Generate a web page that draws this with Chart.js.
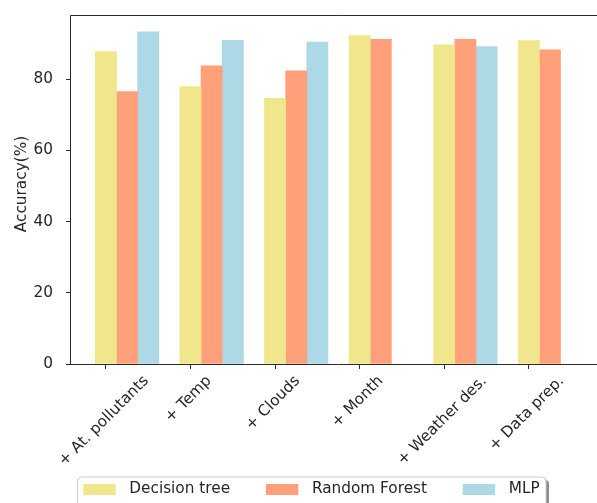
<!DOCTYPE html>
<html>
<head>
<meta charset="utf-8">
<script src="https://cdn.jsdelivr.net/npm/chart.js@4"></script>
<style>
  html, body { margin: 0; padding: 0; background: #fff; }
  #wrap { width: 597px; height: 503px; overflow: hidden; position: relative; }
  canvas { display: block; }
</style>
</head>
<body>
<div id="wrap"><canvas id="c" width="615" height="520" style="width:615px;height:520px"></canvas></div>
<script>
// Feature sets added step by step
const categories = ['+ At. pollutants', '+ Temp', '+ Clouds', '+ Month', '+ Weather des.', '+ Data prep.'];

// Accuracy (%) per model
const decisionTree = [87.7, 77.9, 74.6, 92.2, 89.6, 90.8];
const randomForest = [76.5, 83.7, 82.3, 91.2, 91.2, 88.2];
const mlp          = [93.3, 90.9, 90.4, null, 89.1, null];

const seriesNames = ['Decision tree', 'Random Forest', 'MLP'];
const yTicks = [0, 20, 40, 60, 80];

const colors = ['#f0e68c', '#ffa07a', '#add8e6'];
const barStep = 0.25;          // each model's bar sits a quarter unit to the right
const FONT = '"DejaVu Sans", sans-serif';
const FS = 15.3;
const TEXT = '#262626';

function points(values, k) {
  return values.map((v, i) => ({ x: i + k * barStep, y: v }));
}

const decor = {
  id: 'decor',
  afterDraw(chart) {
    const { ctx, chartArea: a, scales: { x } } = chart;
    ctx.save();

    // axes frame (right side runs off the page)
    ctx.strokeStyle = '#2a2a2a';
    ctx.lineWidth = 1;
    ctx.beginPath();
    ctx.moveTo(a.left - 0.5, a.bottom + 0.5);
    ctx.lineTo(a.left - 0.5, a.top + 0.5);
    ctx.lineTo(a.right + 0.5, a.top + 0.5);
    ctx.lineTo(a.right + 0.5, a.bottom + 0.5);
    ctx.lineTo(a.left - 0.5, a.bottom + 0.5);
    ctx.stroke();

    // rotated category labels, centred under each tick
    ctx.font = FS + 'px ' + FONT;
    ctx.fillStyle = TEXT;
    ctx.textAlign = 'center';
    ctx.textBaseline = 'middle';
    categories.forEach((c, i) => {
      const px = x.getPixelForValue(i);
      const w = ctx.measureText(c).width;
      const half = (w + 16) / (2 * Math.SQRT2);
      ctx.save();
      ctx.translate(px - 2, a.bottom + 9 + half);
      ctx.rotate(-Math.PI / 4);
      ctx.fillText(c, 0, 0);
      ctx.restore();
    });

    // y axis title
    ctx.save();
    ctx.translate(22, 184);
    ctx.rotate(-Math.PI / 2);
    ctx.fillText('Accuracy(%)', 0, 0);
    ctx.restore();

    // legend box below the axis labels
    const top = 477, left = 77.5, right = 546, bottom = 512;
    const handleX = [83.3, 265.9, 462.7];
    const handleW = 32.4, handleH = 11, textOffset = 46, midY = 489.5;

    function rr(x0, y0, x1, y1, r) {
      ctx.beginPath();
      ctx.moveTo(x0 + r, y0);
      ctx.lineTo(x1 - r, y0);
      ctx.quadraticCurveTo(x1, y0, x1, y0 + r);
      ctx.lineTo(x1, y1 - r);
      ctx.quadraticCurveTo(x1, y1, x1 - r, y1);
      ctx.lineTo(x0 + r, y1);
      ctx.quadraticCurveTo(x0, y1, x0, y1 - r);
      ctx.lineTo(x0, y0 + r);
      ctx.quadraticCurveTo(x0, y0, x0 + r, y0);
      ctx.closePath();
    }
    rr(left + 3, top + 3, right + 3, bottom + 3, 4);
    ctx.fillStyle = 'rgba(0,0,0,0.45)';
    ctx.fill();
    rr(left, top, right, bottom, 4);
    ctx.fillStyle = '#ffffff';
    ctx.fill();
    ctx.strokeStyle = '#cccccc';
    ctx.lineWidth = 1;
    ctx.stroke();

    ctx.textAlign = 'left';
    chart.data.datasets.forEach((ds, k) => {
      ctx.fillStyle = ds.backgroundColor;
      ctx.fillRect(handleX[k], midY - handleH / 2, handleW, handleH);
      ctx.fillStyle = TEXT;
      ctx.fillText(ds.label, handleX[k] + textOffset, midY);
    });

    ctx.restore();
  }
};

new Chart(document.getElementById('c'), {
  type: 'bar',
  data: {
    datasets: [
      { label: seriesNames[0], data: points(decisionTree, 0), backgroundColor: colors[0] },
      { label: seriesNames[1], data: points(randomForest, 1), backgroundColor: colors[1] },
      { label: seriesNames[2], data: points(mlp, 2), backgroundColor: colors[2] }
    ]
  },
  options: {
    responsive: false,
    animation: false,
    devicePixelRatio: 1,
    layout: { padding: { left: 0, top: 15, right: 9, bottom: 0 } },
    datasets: {
      bar: { grouped: false, categoryPercentage: 1, barPercentage: 1, borderWidth: 0 }
    },
    plugins: {
      legend: { display: false },
      tooltip: { enabled: false }
    },
    scales: {
      x: {
        type: 'linear',
        offset: false,
        min: -0.4125,
        max: 5.9125,
        afterFit: s => { s.height = 156; s.paddingLeft = 0; s.paddingRight = 0; },
        afterBuildTicks: s => { s.ticks = categories.map((c, i) => ({ value: i })); },
        ticks: { display: false },
        grid: { offset: false, drawOnChartArea: false, drawTicks: true, tickLength: 5, color: '#2a2a2a' },
        border: { display: false }
      },
      y: {
        min: 0,
        max: 98,
        afterFit: s => { s.width = 71; s.paddingTop = 0; s.paddingBottom = 0; },
        afterBuildTicks: s => { s.ticks = yTicks.map(v => ({ value: v })); },
        ticks: { color: TEXT, font: { family: FONT, size: FS }, padding: 13 },
        grid: { drawOnChartArea: false, drawTicks: true, tickLength: 5, color: '#2a2a2a' },
        border: { display: false }
      }
    }
  },
  plugins: [decor]
});
</script>
</body>
</html>
